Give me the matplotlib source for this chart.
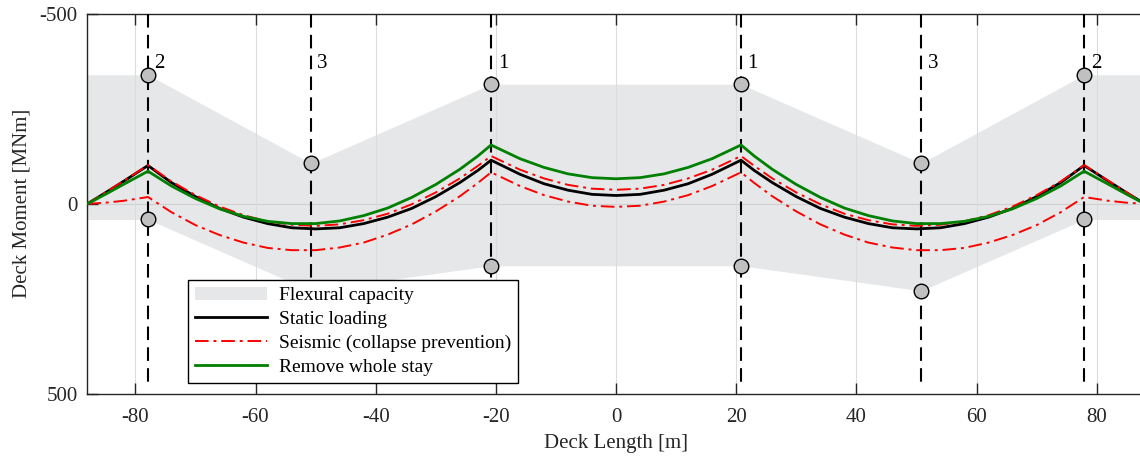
import matplotlib
matplotlib.use("Agg")
from matplotlib import pyplot as plt
import numpy as np

plt.rcParams['font.family'] = ['Liberation Serif', 'DejaVu Serif']
plt.rcParams['axes.unicode_minus'] = False

# stay anchor positions along the deck [m] and their labels
stay_x = [-77.9, -50.8, -20.8, 20.8, 50.8, 77.9]
stay_labels = ['2', '3', '1', '1', '3', '2']

# flexural capacity envelope [MNm]
cap_x = [-88, -77.9, -50.8, -20.8, 20.8, 50.8, 77.9, 88]
cap_neg = [-340, -340, -107, -315, -315, -107, -340, -340]
cap_pos = [41, 41, 229, 163, 163, 229, 41, 41]

# moment diagrams [MNm]
x = [-88, -85, -82, -77.9, -74, -70, -66, -62, -58, -54, -50, -46, -42, -38, -34,
     -30, -26, -23, -20.8, -16, -12, -8, -4, 0, 4, 8, 12, 16, 20.8, 23, 26, 30,
     34, 38, 42, 46, 50, 54, 58, 62, 66, 70, 74, 77.9, 82, 85, 88]
static = [0, -29, -59, -101, -56, -19, 12, 35, 52, 63, 66, 63, 52, 35, 12,
          -19, -56, -88, -115, -78, -53, -36, -25, -22, -25, -36, -53, -78, -115, -88, -56, -19,
          12, 35, 52, 63, 66, 63, 52, 35, 12, -19, -56, -101, -59, -29, 0]
seismic_max = [0, -30, -60, -102, -59, -23, 7, 30, 46, 55, 58, 54, 43, 26, 1,
               -30, -67, -100, -126, -90, -67, -50, -40, -37, -40, -50, -67, -90, -126, -100, -67, -30,
               1, 26, 43, 54, 58, 55, 46, 30, 7, -23, -59, -102, -60, -30, 0]
seismic_min = [0, -3, -8, -18, 22, 56, 82, 102, 116, 122, 122, 115, 102, 81, 54,
               20, -20, -55, -83, -47, -23, -6, 5, 8, 5, -6, -23, -47, -83, -55, -20, 20,
               54, 81, 102, 115, 122, 122, 116, 102, 82, 56, 22, -18, -8, -3, 0]
remove_stay = [0, -25, -51, -86, -47, -14, 13, 33, 46, 52, 52, 45, 31, 11, -17,
               -51, -91, -126, -155, -119, -96, -79, -69, -66, -69, -79, -96, -119, -155, -126, -91, -51,
               -17, 11, 31, 45, 52, 52, 46, 33, 13, -14, -47, -86, -51, -25, 0]

fig = plt.figure(figsize=(11.4, 4.61), dpi=100)
ax = fig.add_axes([87.3 / 1140, 67.3 / 461, 1057.5 / 1140, 379.7 / 461])
ax.set_axisbelow('line')

ax.fill_between(cap_x, cap_neg, cap_pos, color='#e6e7e8', linewidth=0, label='Flexural capacity')

for sx, lab in zip(stay_x, stay_labels):
    ax.plot([sx, sx], [-500, 483], color='black', lw=1.5, dashes=(6.5, 3.5), zorder=3)
    ax.text(sx + 1.1, -358, lab, fontsize=15, ha='left', va='baseline', zorder=4)

ax.plot(x, static, color='black', lw=2, label='Static loading', zorder=5)
ax.plot(x, seismic_max, color='#ff0000', lw=1.4, linestyle=(0, (7, 2.5, 1.5, 2.5)),
        label='Seismic (collapse prevention)', zorder=5)
ax.plot(x, seismic_min, color='#ff0000', lw=1.4, linestyle=(0, (7, 2.5, 1.5, 2.5)), zorder=5)
ax.plot(x, remove_stay, color='#008000', lw=2, label='Remove whole stay', zorder=5)

# capacity points at the anchors
ax.plot(cap_x[1:-1], cap_neg[1:-1], 'o', ms=10.5, mfc='#c0c0c0', mec='black', mew=1, zorder=6)
ax.plot(cap_x[1:-1], cap_pos[1:-1], 'o', ms=10.5, mfc='#c0c0c0', mec='black', mew=1, zorder=6)

ax.set_xlim(-88, 88)
ax.set_ylim(500, -500)
ax.set_xticks(np.arange(-80, 81, 20))
ax.set_yticks([-500, 0, 500])
ax.xaxis.grid(True, color='#dcdcdc', lw=0.8)
ax.axhline(0, color='#d0d0d0', lw=0.8, zorder=1.5)
ax.tick_params(axis='x', direction='in', length=8, width=1, top=True, pad=10,
               labelsize=15, colors='#262626')
ax.tick_params(axis='y', direction='in', length=8, width=1, right=False, pad=7,
               labelsize=15, colors='#262626')
for s in ax.spines.values():
    s.set_color('#262626')
    s.set_linewidth(1)

ax.set_xlabel('Deck Length [m]', fontsize=15, color='#262626', labelpad=5)
ax.set_ylabel('Deck Moment [MNm]', fontsize=15, color='#262626', labelpad=6)

leg = ax.legend(loc='lower left', bbox_to_anchor=(0.0955, 0.028), fontsize=14,
                handlelength=3.7, labelspacing=0.33, borderpad=0.35, handletextpad=0.6,
                borderaxespad=0, fancybox=False, framealpha=1)
leg.get_frame().set_edgecolor('black')
leg.get_frame().set_linewidth(1)
leg.set_zorder(10)

plt.savefig('out.png', dpi=100)
plt.close()
